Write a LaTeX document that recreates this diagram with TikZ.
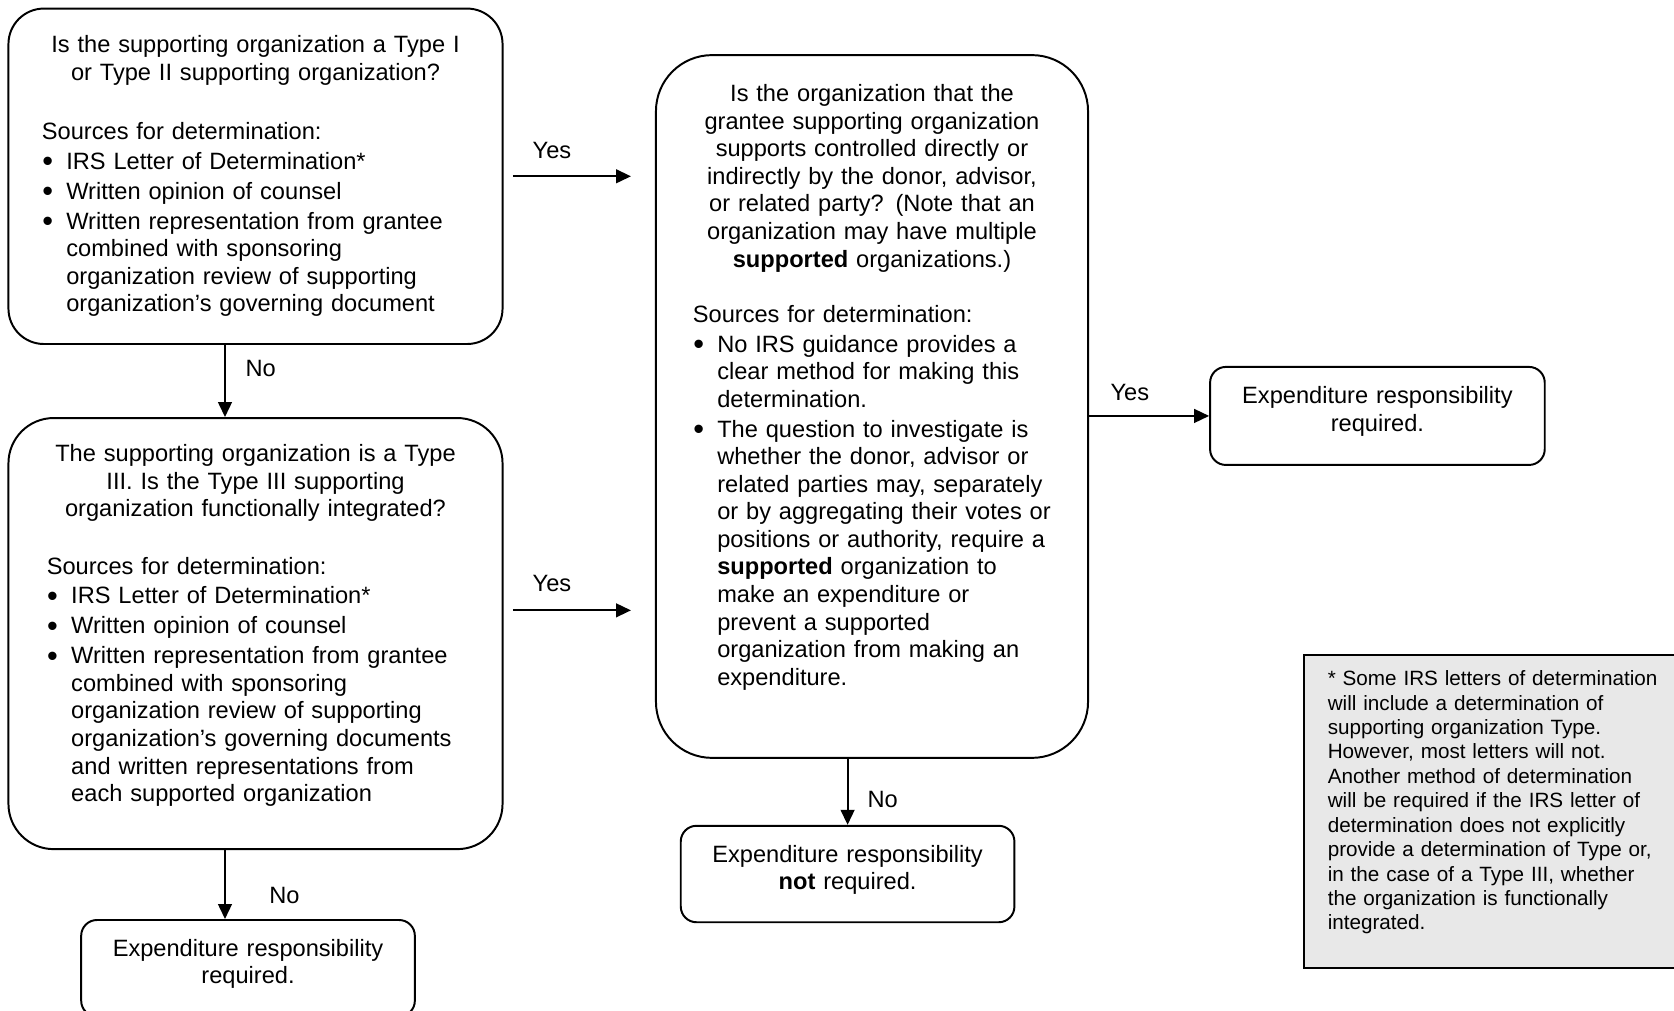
\documentclass[tikz,border=0pt]{standalone}
\usepackage{fontspec}
\setmainfont{Liberation Sans}
\usetikzlibrary{positioning, arrows.meta, calc}
\definecolor{notegray}{RGB}{232,232,232}
\setlength{\parindent}{0pt}
\newcommand{\bitem}{\par\vspace{1.2pt}\hangindent=12.4pt\hangafter=1\noindent\makebox[12.4pt][l]{\hspace{0.2pt}\raisebox{-1.3pt}{\scalebox{1.3}{\textbullet}}}}
\newcommand{\padbottom}[1]{\par\vspace{#1}\hrule height 0pt width 0pt}
\tikzset{
    question/.style={
        rectangle, draw=black, line width=1pt, inner sep=0pt, align=left, font=\fontsize{12}{14}\selectfont
    },
    result/.style={
        rectangle, rounded corners=8pt, minimum width=169.5pt, minimum height=49pt, text width=160pt, align=center, draw=black, line width=1pt, font=\fontsize{12}{14}\selectfont
    },
    note/.style={
        rectangle, draw=black, line width=0.8pt, fill=notegray, inner xsep=12.2pt, minimum height=159pt, align=left, font=\fontsize{10.5}{12.4}\selectfont
    },
    arrow/.style={
        line width=1pt, -{Triangle[length=7.6pt, width=7pt]}
    },
    lbl/.style={
        inner sep=0pt, font=\fontsize{12}{14}\selectfont
    }
}

\begin{document}
\begin{tikzpicture}[x=0.508pt, y=-0.508pt]

    \useasboundingbox (0,0) rectangle (1674,1011);

    % Questions
    \node[question, rounded corners=18pt, minimum width=251pt, minimum height=170.4pt, text width=217pt] (typeOneTwo) at (255.5,176.3) {%
        {\centering Is the supporting organization a Type I\\ or Type II supporting organization?\par}
        \vspace{16pt}
        Sources for determination:
        \bitem IRS Letter of Determination*
        \bitem Written opinion of counsel
        \bitem Written representation from grantee\newline combined with sponsoring\newline organization review of supporting\newline organization’s governing document
        \par};
    \node[question, rounded corners=23pt, minimum width=251pt, minimum height=219pt, text width=212pt, below=36.6pt of typeOneTwo] (typeThree) {%
        {\centering The supporting organization is a Type\\ III. Is the Type III supporting\\ organization functionally integrated?\par}
        \vspace{15pt}
        Sources for determination:
        \bitem IRS Letter of Determination*
        \bitem Written opinion of counsel
        \bitem Written representation from grantee\newline combined with sponsoring\newline organization review of supporting\newline organization’s governing documents\newline and written representations from\newline each supported organization
        \padbottom{8.1pt}};
    \node[question, rounded corners=28.5pt, minimum width=219.5pt, minimum height=357pt, text width=182pt] (control) at (872,406.5) {%
        {\centering Is the organization that the\\ grantee supporting organization\\ supports controlled directly or\\ indirectly by the donor, advisor,\\ or related party? (Note that an\\ organization may have multiple\\ \textbf{supported} organizations.)\par}
        \vspace{14pt}
        Sources for determination:
        \bitem No IRS guidance provides a\newline clear method for making this\newline determination.
        \bitem The question to investigate is\newline whether the donor, advisor or\newline related parties may, separately\newline or by aggregating their votes or\newline positions or authority, require a\newline \textbf{supported} organization to\newline make an expenditure or\newline prevent a supported\newline organization from making an\newline expenditure.
        \padbottom{19.5pt}};

    % Results
    \node[result, below=35pt of typeThree, xshift=-3.8pt] (reqLeft) {Expenditure responsibility\\ required.\padbottom{4.4pt}};
    \node[result, below=33.5pt of control, xshift=-12.4pt] (notReq) {Expenditure responsibility\\ \textbf{not} required.\padbottom{4.4pt}};
    \node[result, minimum width=170pt, minimum height=49.8pt, right=61pt of control, yshift=-4.8pt] (reqRight) {Expenditure responsibility\\ required.\padbottom{4.4pt}};

    % Footnote
    \node[note, text width=175pt] (footnote) at (1500,811.5) {%
        * Some IRS letters of determination\\ will include a determination of\\ supporting organization Type.\\ However, most letters will not.\\ Another method of determination\\ will be required if the IRS letter of\\ determination does not explicitly\\ provide a determination of Type or,\\ in the case of a Type III, whether\\ the organization is functionally\\ integrated.
        \padbottom{9.2pt}};

    % Relationships
    \draw[arrow] ([xshift=-15.5pt]typeOneTwo.south) -- ([xshift=-15.5pt]typeThree.north) node[lbl, pos=0.33, right=10pt] {No};
    \draw[arrow] ([xshift=-15.5pt]typeThree.south) -- ([xshift=-11.7pt]reqLeft.north) node[lbl, pos=0.66, right=22pt] {No};
    \draw[arrow] ([xshift=4.8pt]typeOneTwo.east) -- ($(typeOneTwo.east -| control.west)+(-12.2pt,0)$) node[lbl, pos=0.33, above=8.2pt] {Yes};
    \draw[arrow] ([shift={(4.8pt,11.8pt)}]typeThree.east) -- ($(typeThree.east -| control.west)+(-12.2pt,11.8pt)$) node[lbl, pos=0.33, above=8.8pt] {Yes};
    \draw[arrow] (control.east |- reqRight.west) -- (reqRight.west) node[lbl, pos=0.34, above=7pt] {Yes};
    \draw[arrow] (control.south -| notReq.north) -- (notReq.north) node[lbl, pos=0.62, right=9.7pt] {No};

\end{tikzpicture}
\end{document}
